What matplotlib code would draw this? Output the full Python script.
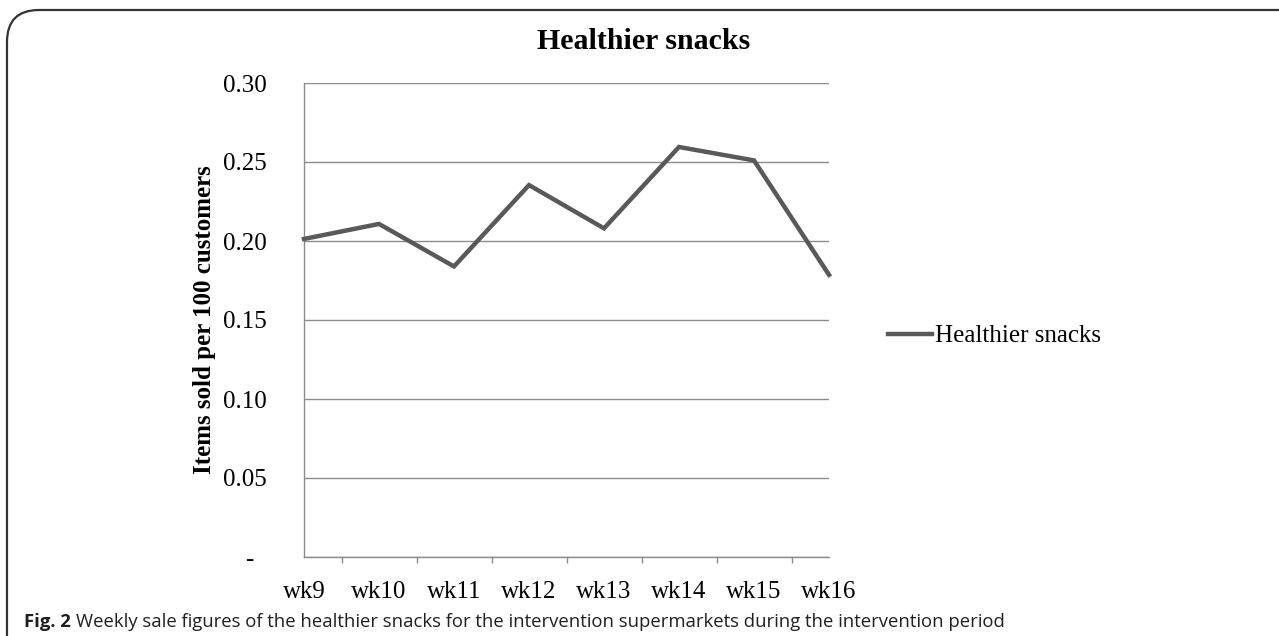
import numpy as np
import matplotlib
matplotlib.use("Agg")
from matplotlib import pyplot as plt
from matplotlib.patches import FancyBboxPatch

# data
weeks = ["wk9", "wk10", "wk11", "wk12", "wk13", "wk14", "wk15", "wk16"]
snacks = [0.2013, 0.2108, 0.1839, 0.2354, 0.2080, 0.2595, 0.2510, 0.1786]
y_ticks = [0.0, 0.05, 0.10, 0.15, 0.20, 0.25, 0.30]
y_tick_labels = ["-  ", "0.05", "0.10", "0.15", "0.20", "0.25", "0.30"]

W, H = 1279, 636
serif = "Liberation Serif"
line_col = "#595959"
grid_col = "#8c8c8c"

fig = plt.figure(figsize=(W / 100, H / 100), dpi=100)

# rounded frame round the whole figure (cut by the right and bottom edges)
frame = FancyBboxPatch((7 / W, -0.05), 1.2, (H - 10) / H + 0.05,
                       boxstyle="round,pad=0,rounding_size=0.025",
                       transform=fig.transFigure, fill=False,
                       edgecolor="#333333", linewidth=1.6, mutation_aspect=W / H)
fig.patches.append(frame)

ax = fig.add_axes([304 / W, 1 - 557 / H, (829 - 304) / W, (557 - 83) / H])
x = np.arange(len(weeks))
ax.plot(x, snacks, color=line_col, lw=3.2, solid_joinstyle="miter",
        label="Healthier snacks", zorder=3, clip_on=False)

ax.set_xlim(0, len(weeks) - 1)
ax.set_ylim(0, 0.30)
ax.set_yticks(y_ticks)
ax.set_yticklabels(y_tick_labels)
ax.set_xticks(x)
ax.set_xticklabels(weeks)
# ticks sit between the categories, as in the spreadsheet chart
ax.set_xticks(list(np.arange(0.5, len(weeks) - 1, 1.0)) + [len(weeks) - 1], minor=True)
ax.tick_params(axis="x", which="major", length=0, pad=17)
ax.tick_params(axis="x", which="minor", length=4, width=1, color=grid_col, direction="out")
ax.tick_params(axis="y", length=0, pad=27)
for lab in ax.get_xticklabels() + ax.get_yticklabels():
    lab.set_fontfamily(serif)
    lab.set_fontsize(18)
    lab.set_color("#000000")

ax.grid(axis="y", color=grid_col, lw=1.0)
ax.set_axisbelow(True)
for side in ["top", "right"]:
    ax.spines[side].set_visible(False)
for side in ["left", "bottom"]:
    ax.spines[side].set_color(grid_col)
    ax.spines[side].set_linewidth(1.0)

fig.text(644 / W, 1 - 49 / H, "Healthier snacks", ha="center", va="baseline",
         fontfamily=serif, fontweight="bold", fontsize=21.5)
fig.text(205 / W, 1 - 320 / H, "Items sold per 100 customers", rotation=90,
         ha="center", va="center", fontfamily=serif, fontweight="bold", fontsize=18)

ax.legend(loc="center left", bbox_to_anchor=(888 / W, 1 - 336 / H),
          bbox_transform=fig.transFigure, frameon=False, borderpad=0,
          borderaxespad=0, handlelength=1.75, handletextpad=0.12,
          prop={"family": serif, "size": 18})

# caption under the chart
cap_size = 13.3
t1 = fig.text(24 / W, 1 - 627 / H, "Fig. 2", ha="left", va="baseline",
              fontfamily="Open Sans", fontweight="bold", fontsize=cap_size, color="#231f20")
fig.canvas.draw()
bb = t1.get_window_extent()
fig.text(bb.x1 / W + 5 / W, 1 - 627 / H,
         "Weekly sale figures of the healthier snacks for the intervention supermarkets during the intervention period",
         ha="left", va="baseline", fontfamily="Open Sans", fontsize=cap_size, color="#231f20")

fig.savefig("out.png", dpi=100)
